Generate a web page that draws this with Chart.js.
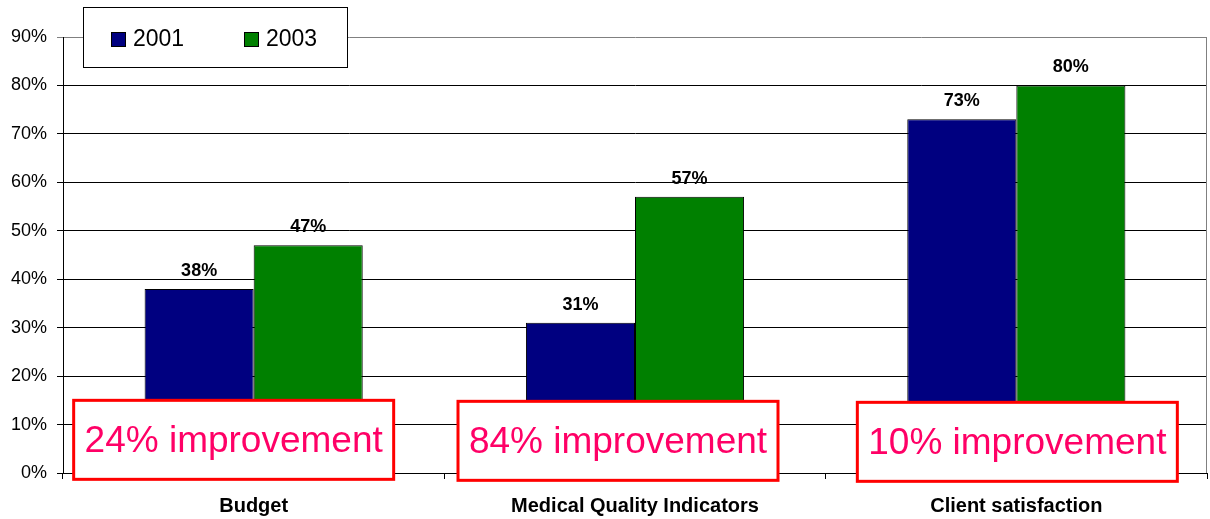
<!DOCTYPE html>
<html>
<head>
<meta charset="utf-8">
<script src="https://cdn.jsdelivr.net/npm/chart.js@4.4.1/dist/chart.umd.min.js"></script>
<style>
  body { margin: 0; background: #fff; }
  #improveChart { display: block; }
</style>
</head>
<body>
<canvas id="improveChart" width="1210" height="519"></canvas>
<script>
// chart values
var categories = ['Budget', 'Medical Quality Indicators', 'Client satisfaction'];
var values2001 = [38, 31, 73];
var values2003 = [47, 57, 80];
var improvements = ['24% improvement', '84% improvement', '10% improvement'];
var yTicks = [0, 10, 20, 30, 40, 50, 60, 70, 80, 90];

var FONT = 'Arial, "Liberation Sans", sans-serif';

// labels over the bars
var barLabels = {
    id: 'barLabels',
    afterDatasetsDraw: function (chart) {
        var ctx = chart.ctx;
        ctx.save();
        ctx.font = 'bold 18px ' + FONT;
        ctx.fillStyle = '#000';
        ctx.textAlign = 'center';
        ctx.textBaseline = 'alphabetic';
        chart.data.datasets.forEach(function (ds, i) {
            chart.getDatasetMeta(i).data.forEach(function (bar, j) {
                ctx.fillText(ds.data[j] + '%', bar.x, bar.y - 13);
            });
        });
        ctx.restore();
    }
};

// gray frame on the right, legend box and the red improvement boxes
var extras = {
    id: 'extras',
    beforeDatasetsDraw: function (chart) {
        var ctx = chart.ctx, a = chart.chartArea;
        ctx.save();
        ctx.strokeStyle = '#808080';
        ctx.lineWidth = 1;
        ctx.beginPath();
        ctx.moveTo(Math.round(a.right) - 0.5, a.top);
        ctx.lineTo(Math.round(a.right) - 0.5, a.bottom);
        ctx.stroke();
        ctx.restore();
    },
    afterDraw: function (chart) {
        var ctx = chart.ctx;
        var x = chart.scales.x, y = chart.scales.y;
        ctx.save();

        // legend
        ctx.fillStyle = '#fff';
        ctx.fillRect(83, 8, 264, 60);
        ctx.strokeStyle = '#000';
        ctx.lineWidth = 1;
        ctx.strokeRect(83.5, 7.5, 264, 60);
        ctx.font = '23px ' + FONT;
        ctx.textBaseline = 'middle';
        var lx = [111, 244];
        chart.data.datasets.forEach(function (ds, i) {
            ctx.fillStyle = ds.backgroundColor;
            ctx.fillRect(lx[i] + 0.5, 32.5, 14, 14);
            ctx.strokeStyle = '#000';
            ctx.strokeRect(lx[i] + 0.5, 32.5, 14, 14);
            ctx.fillStyle = '#000';
            ctx.fillText(ds.label, lx[i] + 22, 40);
        });

        // improvement boxes
        var shift = [-20, -17, 1];
        var top = y.getPixelForValue(15);
        ctx.font = '37px ' + FONT;
        ctx.textAlign = 'center';
        improvements.forEach(function (txt, i) {
            var cx = x.getPixelForValue(i) + shift[i];
            var t = top + i;
            ctx.fillStyle = '#fff';
            ctx.fillRect(cx - 160, t, 320, 79);
            ctx.strokeStyle = '#ff0000';
            ctx.lineWidth = 3;
            ctx.strokeRect(cx - 160, t, 320, 79);
            ctx.fillStyle = '#ff0066';
            ctx.fillText(txt, cx, t + 41);
        });
        ctx.restore();
    }
};

var chart = new Chart(document.getElementById('improveChart'), {
    type: 'bar',
    data: {
        labels: categories,
        datasets: [{
            label: '2001',
            data: values2001,
            backgroundColor: '#000080',
            borderColor: '#000',
            borderWidth: 1
        }, {
            label: '2003',
            data: values2003,
            backgroundColor: '#008000',
            borderColor: '#000',
            borderWidth: 1
        }]
    },
    options: {
        responsive: false,
        animation: false,
        layout: { padding: { top: 37, right: 3, left: 0, bottom: 0 } },
        plugins: {
            legend: { display: false },
            tooltip: { enabled: false }
        },
        datasets: {
            bar: { categoryPercentage: 0.572, barPercentage: 1 }
        },
        scales: {
            x: {
                grid: {
                    offset: true,
                    drawOnChartArea: false,
                    tickLength: 6,
                    color: '#000'
                },
                border: { color: '#000' },
                ticks: {
                    color: '#000',
                    padding: 15,
                    font: { family: FONT, size: 20, weight: 'bold' }
                },
                afterFit: function (s) { s.height = 46; }
            },
            y: {
                min: 0,
                max: 90,
                afterBuildTicks: function (s) {
                    s.ticks = yTicks.map(function (v) { return { value: v }; });
                },
                grid: {
                    tickLength: 6,
                    color: function (c) { return c.tick && c.tick.value === 90 ? '#808080' : '#000'; }
                },
                border: { color: '#000' },
                ticks: {
                    color: '#000',
                    padding: 10,
                    font: { family: FONT, size: 18 },
                    callback: function (v) { return v + '%'; }
                },
                afterFit: function (s) { s.width = 63; }
            }
        }
    },
    plugins: [barLabels, extras]
});
</script>
</body>
</html>
